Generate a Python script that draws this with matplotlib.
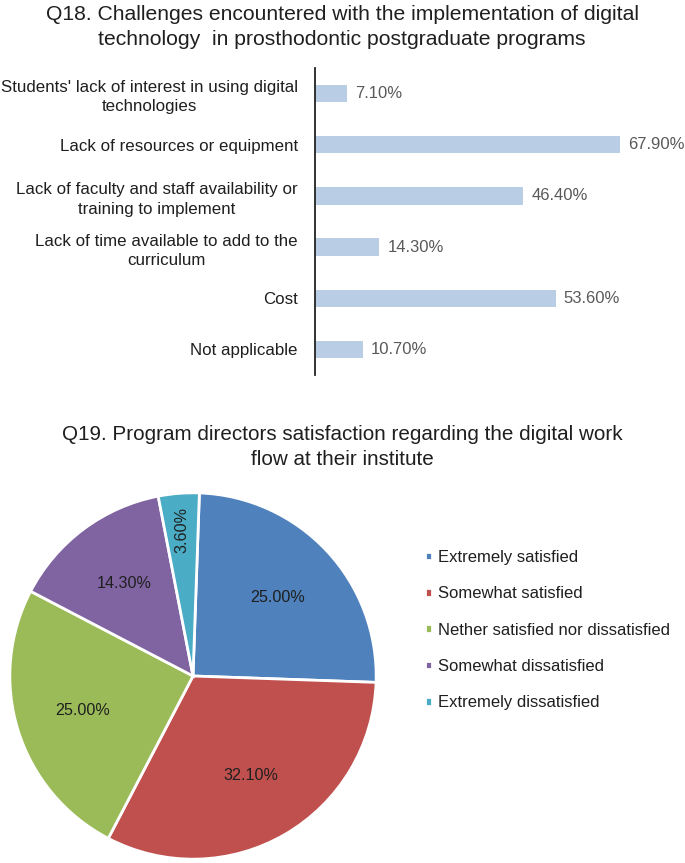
import matplotlib
matplotlib.use("Agg")
import matplotlib.pyplot as plt
import numpy as np

plt.rcParams['font.family'] = ['Liberation Sans', 'DejaVu Sans']

# ---- data ----
bar_categories = [
    "Students' lack of interest in using digital\ntechnologies",
    "Lack of resources or equipment",
    "Lack of faculty and staff availability or\ntraining to implement",
    "Lack of time available to add to the\ncurriculum",
    "Cost",
    "Not applicable",
]
bar_values = [7.1, 67.9, 46.4, 14.3, 53.6, 10.7]

pie_labels = [
    "Extremely satisfied",
    "Somewhat satisfied",
    "Nether satisfied nor dissatisfied",
    "Somewhat dissatisfied",
    "Extremely dissatisfied",
]
pie_values = [25.0, 32.1, 25.0, 14.3, 3.6]
pie_colors = ["#4F81BD", "#C0504D", "#9BBB59", "#8064A2", "#4BACC6"]

W, H = 685, 863
fig = plt.figure(figsize=(W / 100, H / 100), dpi=100)
fig.patch.set_facecolor("white")
TXT = "#1f1f1f"

# ---- bar chart ----
axb = fig.add_axes([315 / W, (H - 375) / H, 370 / W, 307 / H])
y = np.arange(len(bar_values))
axb.barh(y, bar_values, height=0.34, color="#B9CDE5", left=0)
axb.set_ylim(len(bar_values) - 0.5, -0.5)
axb.set_xlim(0, 82.4)
for s in ["top", "right", "bottom"]:
    axb.spines[s].set_visible(False)
axb.spines["left"].set_color("#222222")
axb.spines["left"].set_linewidth(1.3)
axb.set_xticks([])
axb.set_yticks(y)
axb.set_yticklabels(bar_categories, fontsize=12.2, color=TXT)
for lab in axb.get_yticklabels():
    lab.set_multialignment("center")
    lab.set_linespacing(1.35)
axb.tick_params(axis="y", length=0, pad=12.5)
for yi, v in zip(y, bar_values):
    axb.text(v + 1.8, yi, f"{v:.2f}%", va="center", ha="left",
             fontsize=12, color="#595959")

fig.text(342 / W, 1 - 27 / H,
         "Q18. Challenges encountered with the implementation of digital\n"
         "technology  in prosthodontic postgraduate programs",
         ha="center", va="center", fontsize=15.2, color=TXT,
         linespacing=1.4)

# ---- pie chart ----
axp = fig.add_axes([8 / W, (H - 676 - 185) / H, 370 / W, 370 / H])
wedges, texts, autotexts = axp.pie(
    pie_values, colors=pie_colors, startangle=88, counterclock=False,
    autopct=lambda p: f"{p:.2f}%", pctdistance=0.63,
    wedgeprops=dict(edgecolor="white", linewidth=2),
    textprops=dict(fontsize=11.6, color=TXT))
axp.set_xlim(-1.01, 1.01)
axp.set_ylim(-1.01, 1.01)
axp.set_aspect("equal")
axp.axis("off")
# small slice: rotated label further out
w = wedges[-1]
ang = np.deg2rad((w.theta1 + w.theta2) / 2)
autotexts[-1].set_position((0.8 * np.cos(ang), 0.8 * np.sin(ang)))
autotexts[-1].set_rotation(90)

fig.text(342 / W, 1 - 447 / H,
         "Q19. Program directors satisfaction regarding the digital work\n"
         "flow at their institute",
         ha="center", va="center", fontsize=14.9, color=TXT,
         linespacing=1.4)

fig.legend(wedges, pie_labels, loc="upper left",
           bbox_to_anchor=(410 / W, 1 - 535 / H), frameon=False,
           fontsize=12, handlelength=0.4, handleheight=0.4,
           handletextpad=0.35, labelspacing=1.28, labelcolor=TXT)

fig.savefig("out.png", dpi=100, facecolor="white")
